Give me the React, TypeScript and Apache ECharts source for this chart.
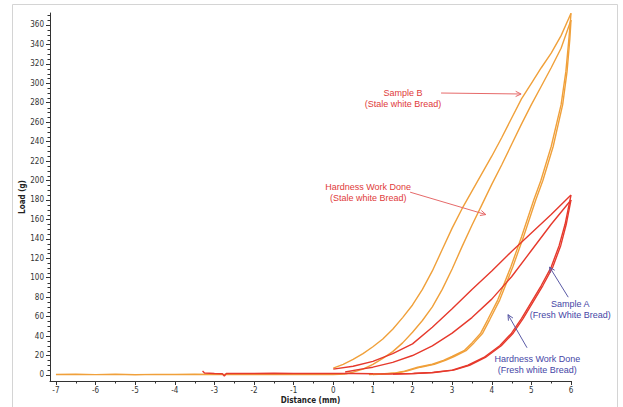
import React, { useEffect, useRef } from 'react';
import * as echarts from 'echarts';

// Axis ticks
const xTicks = [-7, -6, -5, -4, -3, -2, -1, 0, 1, 2, 3, 4, 5, 6];
const xMinorTicks = [-6.5, -5.5, -4.5, -3.5, -2.5, -1.5, -0.5, 0.5, 1.5, 2.5, 3.5, 4.5, 5.5];
const yTicks = [0, 20, 40, 60, 80, 100, 120, 140, 160, 180, 200, 220, 240, 260, 280, 300, 320, 340, 360];
const yMinorTicks = [5, 10, 15, 25, 30, 35, 45, 50, 55, 65, 70, 75, 85, 90, 95, 105, 110, 115, 125, 130, 135, 145, 150, 155, 165, 170, 175, 185, 190, 195, 205, 210, 215, 225, 230, 235, 245, 250, 255, 265, 270, 275, 285, 290, 295, 305, 310, 315, 325, 330, 335, 345, 350, 355, 365, 370];

// Sample B (stale white bread) - orange
const sampleBBaseline = [[-7, 0.5], [-6.5, 0.8], [-6, 0.4], [-5.5, 0.7], [-5, 0.3], [-4.5, 0.6], [-4, 0.5], [-3.5, 0.7], [-3, 0.5], [-2, 0.5], [-1, 0.6], [0, 0.5], [0.3, 1]];
const sampleBComp1 = [[0, 7], [0.25, 11], [0.5, 16], [0.75, 22], [1, 29], [1.25, 37], [1.5, 47], [1.75, 59], [2, 72], [2.25, 88], [2.5, 107], [2.75, 129], [3, 151], [3.25, 171], [3.5, 189], [3.75, 207], [4, 225], [4.25, 244], [4.5, 264], [4.75, 284], [5, 300], [5.25, 316], [5.5, 331], [5.75, 349], [6, 372]];
const sampleBDecomp1 = [[6, 372], [5.95, 347], [5.87, 312], [5.75, 278], [5.5, 235], [5.24, 200], [5.06, 180], [4.75, 142], [4.48, 111], [4.15, 77], [3.9, 57], [3.72, 43], [3.5, 33], [3.3, 25], [3, 19], [2.78, 15], [2.5, 11], [2.13, 8], [1.8, 4], [1.57, 2], [1.2, 1], [0.9, 0.5]];
const sampleBComp2 = [[0.3, 1], [0.5, 3], [0.75, 6], [1, 11], [1.25, 17], [1.5, 24], [1.75, 33], [2, 44], [2.25, 56], [2.5, 70], [2.75, 88], [3, 109], [3.25, 132], [3.5, 154], [3.75, 175], [4, 196], [4.25, 216], [4.5, 237], [4.75, 258], [5, 278], [5.25, 297], [5.5, 316], [5.75, 336], [6, 365]];
const sampleBDecomp2 = [[6, 365], [5.97, 345], [5.9, 312], [5.79, 278], [5.55, 235], [5.29, 200], [5.11, 180], [4.8, 142], [4.53, 111], [4.2, 77], [3.95, 57], [3.77, 43], [3.55, 33], [3.35, 25], [3.05, 19], [2.83, 15], [2.55, 11], [2.2, 8], [1.85, 4], [1.6, 2], [1.3, 1], [1.0, 0.5]];

// Sample A (fresh white bread) - red
const sampleABaseline = [[-3.3, 4], [-3.25, 2], [-3, 1.5], [-2.8, 1.2], [-2.75, -1], [-2.7, 1.5], [-2.5, 1.5], [-2, 1.5], [-1.5, 1.8], [-1, 1.5], [-0.5, 1.5], [0, 1.5], [0.5, 1.5], [1, 1.2], [1.5, 1]];
const sampleAComp1 = [[0, 6], [0.5, 9], [1, 14], [1.5, 22], [2, 32], [2.5, 49], [3, 68], [3.5, 88], [4, 107], [4.5, 127], [5, 146], [5.5, 165], [6, 185]];
const sampleADecomp1 = [[6, 185], [5.85, 155], [5.7, 133], [5.5, 111], [5.25, 92], [5, 75], [4.75, 58], [4.5, 43], [4.2, 30], [3.8, 18], [3.4, 10], [3, 5], [2.5, 2.5], [2, 1.5], [1.5, 1]];
const sampleAComp2 = [[0.3, 3], [0.7, 6], [1, 8], [1.5, 13], [2, 20], [2.5, 30], [3, 43], [3.5, 59], [4, 78], [4.5, 101], [5, 128], [5.5, 155], [6, 180]];
const sampleADecomp2 = [[6, 180], [5.88, 155], [5.74, 133], [5.54, 111], [5.29, 92], [5.04, 75], [4.79, 58], [4.54, 43], [4.24, 30], [3.84, 18], [3.44, 10], [3.04, 5], [2.54, 2.5], [2.04, 1.5], [1.5, 1]];

// Annotations (data coordinates)
const annotationTexts = [
  { text: 'Sample B\n(Stale white Bread)', at: [1.76, 284], color: '#e03a3a' },
  { text: 'Hardness Work Done\n(Stale white Bread)', at: [0.88, 188], color: '#e03a3a' },
  { text: 'Sample A\n(Fresh White Bread)', at: [5.98, 67], color: '#4646a6' },
  { text: 'Hardness Work Done\n(Fresh white Bread)', at: [5.15, 11], color: '#4646a6' },
];
const annotationArrows = [
  { from: [2.72, 290], to: [4.74, 289], color: '#e66a6a' },
  { from: [1.94, 188], to: [3.85, 165], color: '#e66a6a' },
  { from: [5.93, 80], to: [5.46, 111], color: '#5a5aa6' },
  { from: [4.89, 28], to: [4.41, 62], color: '#5a5aa6' },
];

const ORANGE = '#f0a03a';
const RED = '#e6392c';
const AXIS = '#333';
const tickFont = "'Liberation Sans Narrow','DejaVu Sans Condensed','Liberation Sans',sans-serif";

export default function App() {
  const ref = useRef<HTMLDivElement>(null);
  useEffect(() => {
    const chart = echarts.init(ref.current as HTMLDivElement, null, { renderer: 'svg' });
    const line = (name: string, data: number[][], color: string, z: number) => ({
      type: 'line', name, data, showSymbol: false, symbol: 'none', clip: false,
      silent: true, z,
      lineStyle: { color, width: 1.4 },
    });
    chart.setOption({
      animation: false,
      backgroundColor: '#ffffff',
      grid: { left: 50, right: 52, top: 13, bottom: 26, outerBoundsMode: 'none' },
      xAxis: {
        type: 'value', min: -7.15, max: 6, position: 'bottom',
        axisLine: { show: true, onZero: false, lineStyle: { color: AXIS, width: 1 } },
        axisTick: { show: true, customValues: xTicks, length: 4, lineStyle: { color: AXIS } },
        axisLabel: { customValues: xTicks, fontSize: 8, color: AXIS, margin: 5, fontFamily: tickFont },
        splitLine: { show: false },
        name: 'Distance (mm)', nameLocation: 'middle', nameGap: 15, nameMoveOverlap: false,
        nameTextStyle: { fontSize: 8, fontWeight: 'bold', color: '#222', fontFamily: tickFont },
      },
      yAxis: {
        type: 'value', min: -6.2, max: 372.3, position: 'left',
        axisLine: { show: true, onZero: false, lineStyle: { color: AXIS, width: 1 } },
        axisTick: { show: true, customValues: yTicks, length: 4, lineStyle: { color: AXIS } },
        axisLabel: { customValues: yTicks, fontSize: 8, color: AXIS, margin: 6, fontFamily: tickFont },
        splitLine: { show: false },
        name: 'Load (g)', nameLocation: 'middle', nameGap: 24, nameMoveOverlap: false,
        nameTextStyle: { fontSize: 8, fontWeight: 'bold', color: '#222', fontFamily: tickFont },
      },
      series: [
        line('B baseline', sampleBBaseline, ORANGE, 2),
        line('B compression 1', sampleBComp1, ORANGE, 2),
        line('B decompression 1', sampleBDecomp1, ORANGE, 2),
        line('B compression 2', sampleBComp2, ORANGE, 2),
        line('B decompression 2', sampleBDecomp2, ORANGE, 2),
        line('A baseline', sampleABaseline, RED, 3),
        line('A compression 1', sampleAComp1, RED, 3),
        line('A decompression 1', sampleADecomp1, RED, 3),
        line('A compression 2', sampleAComp2, RED, 3),
        line('A decompression 2', sampleADecomp2, RED, 3),
      ],
    });

    const toPx = (p: number[]) => chart.convertToPixel({ gridIndex: 0 }, p) as number[];
    const graphics: any[] = [
      {
        type: 'rect', shape: { x: 12.5, y: 4.5, width: 605, height: 410 }, silent: true,
        style: { fill: 'none', stroke: '#d4d4d4', lineWidth: 1 },
      },
    ];
    // minor ticks on the axes
    const axisY = toPx([0, -6.2])[1];
    const axisX = toPx([-7.15, 0])[0];
    xMinorTicks.forEach((v) => {
      const px = Math.round(toPx([v, 0])[0]) + 0.5;
      graphics.push({
        type: 'line', silent: true,
        shape: { x1: px, y1: axisY, x2: px, y2: axisY + 2.5 },
        style: { stroke: AXIS, lineWidth: 1 },
      });
    });
    yMinorTicks.forEach((v) => {
      const py = Math.round(toPx([0, v])[1]) + 0.5;
      graphics.push({
        type: 'line', silent: true,
        shape: { x1: axisX - 2.5, y1: py, x2: axisX, y2: py },
        style: { stroke: AXIS, lineWidth: 1 },
      });
    });
    annotationTexts.forEach((a) => {
      const [x, y] = toPx(a.at);
      graphics.push({
        type: 'text', x, y, silent: true, z: 10,
        style: {
          text: a.text, fill: a.color, fontSize: 9, lineHeight: 11,
          fontFamily: "'Liberation Sans',Arial,sans-serif",
          align: 'center', verticalAlign: 'middle',
        },
      });
    });
    annotationArrows.forEach((a) => {
      const [x1, y1] = toPx(a.from);
      const [x2, y2] = toPx(a.to);
      const ang = Math.atan2(y2 - y1, x2 - x1);
      const L = 6;
      const spread = 0.45;
      graphics.push({
        type: 'line', silent: true, z: 10,
        shape: { x1, y1, x2, y2 },
        style: { stroke: a.color, lineWidth: 1 },
      });
      graphics.push({
        type: 'polyline', silent: true, z: 10,
        shape: {
          points: [
            [x2 - L * Math.cos(ang - spread), y2 - L * Math.sin(ang - spread)],
            [x2, y2],
            [x2 - L * Math.cos(ang + spread), y2 - L * Math.sin(ang + spread)],
          ],
        },
        style: { stroke: a.color, lineWidth: 1, fill: 'none' },
      });
    });
    chart.setOption({ graphic: graphics });

    return () => chart.dispose();
  }, []);
  return (
    <div
      ref={ref}
      style={{ position: 'fixed', left: 0, top: 0, width: 623, height: 407, background: '#fff' }}
    />
  );
}
